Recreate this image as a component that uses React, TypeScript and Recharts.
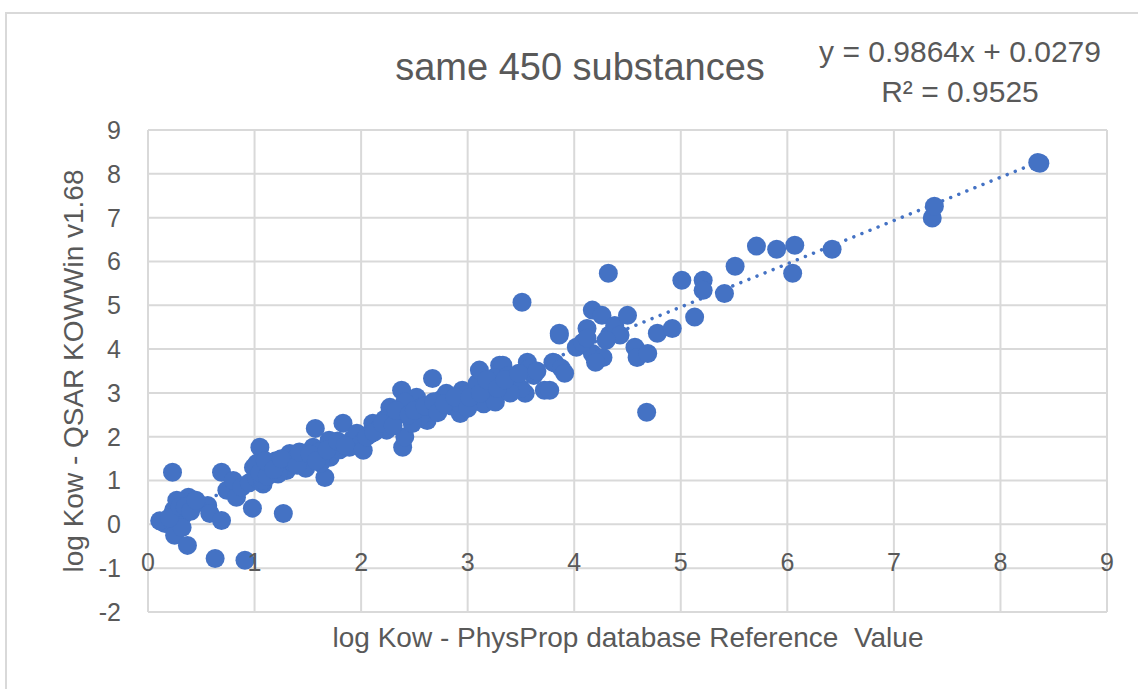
import React from "react";
import { ScatterChart, Scatter, XAxis, YAxis, CartesianGrid } from "recharts";

// log Kow, PhysProp reference value (x) vs QSAR KOWWin v1.68 estimate (y)
const refLow = [0.23, 0.69, 0.16, 0.11, 0.24, 0.38, 0.27, 0.33, 0.25, 0.37, 0.32, 0.2, 0.3, 0.42, 0.56, 0.58, 0.69, 0.63, 0.91, 0.98, 1.27, 0.74, 0.83, 0.8, 1.05, 0.99, 0.88, 0.95, 1.02, 1.08, 0.35, 0.4, 0.45];
const qsarLow = [1.19, 1.19, 0.02, 0.08, 0.32, 0.62, 0.55, 0.21, -0.25, -0.48, -0.07, 0.15, 0.4, 0.5, 0.43, 0.25, 0.09, -0.78, -0.82, 0.37, 0.25, 0.78, 0.62, 1.0, 1.76, 1.3, 0.85, 0.95, 1.05, 0.92, 0.4, 0.3, 0.55];

const refOne = [1.02, 1.08, 1.14, 1.05, 1.2, 1.27, 1.3, 1.33, 1.38, 1.45, 1.5, 1.55, 1.57, 1.66, 1.6, 1.71, 1.75, 1.8, 1.83, 1.89, 1.92, 1.96, 2.0, 1.7, 1.62, 1.48, 1.35, 1.22, 1.12, 1.1, 1.18, 1.25, 1.4, 1.42, 1.52, 1.58, 1.68, 1.78, 1.85];
const qsarOne = [1.39, 1.0, 1.3, 1.18, 1.45, 1.36, 1.23, 1.62, 1.5, 1.53, 1.45, 1.76, 2.19, 1.07, 1.65, 1.53, 1.85, 1.7, 2.31, 1.76, 1.95, 2.08, 1.85, 1.92, 1.4, 1.28, 1.42, 1.15, 1.1, 1.45, 1.25, 1.5, 1.35, 1.65, 1.6, 1.45, 1.7, 1.9, 1.8];

const refTwo = [2.02, 2.11, 2.08, 2.15, 2.18, 2.24, 2.27, 2.3, 2.38, 2.39, 2.41, 2.46, 2.52, 2.41, 2.35, 2.62, 2.67, 2.71, 2.75, 2.8, 2.85, 2.93, 2.95, 2.9, 2.62, 2.55, 2.58, 2.48, 2.22, 2.98, 2.05, 2.12, 2.2, 2.3, 2.33, 2.45, 2.5, 2.6, 2.68, 2.72, 2.78, 2.88];
const qsarTwo = [1.69, 2.31, 2.05, 2.15, 2.2, 2.15, 2.67, 2.37, 3.06, 1.76, 2.0, 2.6, 2.9, 2.79, 2.5, 2.37, 3.33, 2.6, 2.85, 2.99, 2.7, 2.53, 3.06, 2.8, 2.55, 2.45, 2.7, 2.3, 2.4, 2.95, 2.0, 2.1, 2.3, 2.25, 2.6, 2.5, 2.6, 2.7, 2.8, 2.55, 2.75, 2.9];

const refThree = [3.05, 3.09, 3.11, 3.15, 3.2, 3.26, 3.3, 3.33, 3.38, 3.45, 3.51, 3.54, 3.5, 3.56, 3.58, 3.62, 3.72, 3.77, 3.8, 3.82, 3.86, 3.88, 3.91, 3.86, 3.0, 3.25, 3.4, 3.02, 3.12, 3.18, 3.28, 3.35, 3.48, 3.65];
const qsarThree = [2.8, 3.22, 3.52, 2.75, 3.1, 2.79, 3.63, 3.63, 3.4, 3.2, 5.07, 2.99, 3.1, 3.7, 3.56, 3.4, 3.06, 3.06, 3.7, 3.68, 4.32, 3.56, 3.45, 4.36, 2.65, 3.35, 3.0, 2.9, 3.0, 3.3, 3.1, 3.3, 3.45, 3.5];

const refFour = [4.02, 4.12, 4.17, 4.17, 4.26, 4.27, 4.32, 4.33, 4.38, 4.43, 4.5, 4.57, 4.59, 4.68, 4.69, 4.78, 4.92, 4.08, 4.2, 4.3, 4.12];
const qsarFour = [4.04, 4.47, 3.9, 4.89, 4.77, 3.81, 5.73, 4.32, 4.54, 4.32, 4.77, 4.04, 3.81, 2.56, 3.9, 4.36, 4.47, 4.15, 3.7, 4.2, 4.25];

const refHigh = [5.01, 5.13, 5.21, 5.21, 5.41, 5.51, 5.71, 5.9, 6.07, 6.05, 6.42, 7.36, 7.38, 8.37, 8.35];
const qsarHigh = [5.57, 4.73, 5.57, 5.34, 5.27, 5.89, 6.35, 6.28, 6.37, 5.73, 6.28, 6.99, 7.26, 8.24, 8.26];

const xTicks = [0, 1, 2, 3, 4, 5, 6, 7, 8, 9];
const yTicks = [-2, -1, 0, 1, 2, 3, 4, 5, 6, 7, 8, 9];

// linear trendline from Excel
const slope = 0.9864;
const intercept = 0.0279;

const refAll = [...refLow, ...refOne, ...refTwo, ...refThree, ...refFour, ...refHigh];
const qsarAll = [...qsarLow, ...qsarOne, ...qsarTwo, ...qsarThree, ...qsarFour, ...qsarHigh];
const points = refAll.map((x, i) => ({ x, y: qsarAll[i] }));

const xMin = Math.min(...refAll);
const xMax = Math.max(...refAll);
const trend = [xMin, xMax].map((x) => ({ x, y: slope * x + intercept }));

const BLUE = "#4472C4";
const GREY = "#595959";
const FONT = "'Liberation Sans', Arial, sans-serif";

const Dot = (props: any) => <circle cx={props.cx} cy={props.cy} r={9.5} fill={BLUE} />;

const XTick = ({ x, y, payload }: any) => (
    <text x={x} y={y - 50} dy="0.35em" textAnchor="middle" fill={GREY} fontSize={25} fontFamily={FONT}>
        {payload.value}
    </text>
);

export default function App() {
    return (
        <div style={{ position: "absolute", left: 0, top: 0, width: 1138, height: 689, overflow: "hidden", background: "#fff", fontFamily: FONT }}>
            {/* chart frame */}
            <div style={{ position: "absolute", left: 5, top: 12, width: 1200, height: 800, border: "2px solid #d9d9d9" }} />

            <div style={{ position: "absolute", left: 580, top: 67, transform: "translate(-50%, -50%)", fontSize: 38, color: GREY, whiteSpace: "nowrap" }}>
                same 450 substances
            </div>
            <div style={{ position: "absolute", left: 960, top: 72, transform: "translate(-50%, -50%)", fontSize: 30, color: GREY, whiteSpace: "nowrap", textAlign: "center", lineHeight: "40px" }}>
                <div>y = 0.9864x + 0.0279</div>
                <div>R² = 0.9525</div>
            </div>

            <div style={{ position: "absolute", left: 74, top: 371, transform: "translate(-50%, -50%) rotate(-90deg)", fontSize: 28, color: GREY, whiteSpace: "nowrap" }}>
                log Kow - QSAR KOWWin v1.68
            </div>
            <div style={{ position: "absolute", left: 628, top: 638, transform: "translate(-50%, -50%)", fontSize: 28, color: GREY, whiteSpace: "pre" }}>
                {"log Kow - PhysProp database Reference  Value"}
            </div>

            <div style={{ position: "absolute", left: 0, top: 0 }}>
                <ScatterChart width={1138} height={689} margin={{ top: 130, right: 31, bottom: 47, left: 0 }}>
                    <CartesianGrid stroke="#d9d9d9" strokeWidth={2} />
                    <XAxis
                        type="number"
                        dataKey="x"
                        domain={[0, 9]}
                        ticks={xTicks}
                        axisLine={false}
                        tickLine={false}
                        tickSize={0}
                        tickMargin={0}
                        height={30}
                        tick={<XTick />}
                    />
                    <YAxis
                        type="number"
                        dataKey="y"
                        domain={[-2, 9]}
                        ticks={yTicks}
                        axisLine={false}
                        tickLine={false}
                        tickSize={0}
                        tickMargin={27}
                        width={148}
                        tick={{ fill: GREY, fontSize: 25, fontFamily: FONT }}
                    />
                    <Scatter
                        data={trend}
                        isAnimationActive={false}
                        shape={() => <g />}
                        line={{ stroke: BLUE, strokeWidth: 3.5, strokeDasharray: "0.01 8.7", strokeLinecap: "round" }}
                    />
                    <Scatter data={points} isAnimationActive={false} shape={<Dot />} />
                </ScatterChart>
            </div>
        </div>
    );
}
